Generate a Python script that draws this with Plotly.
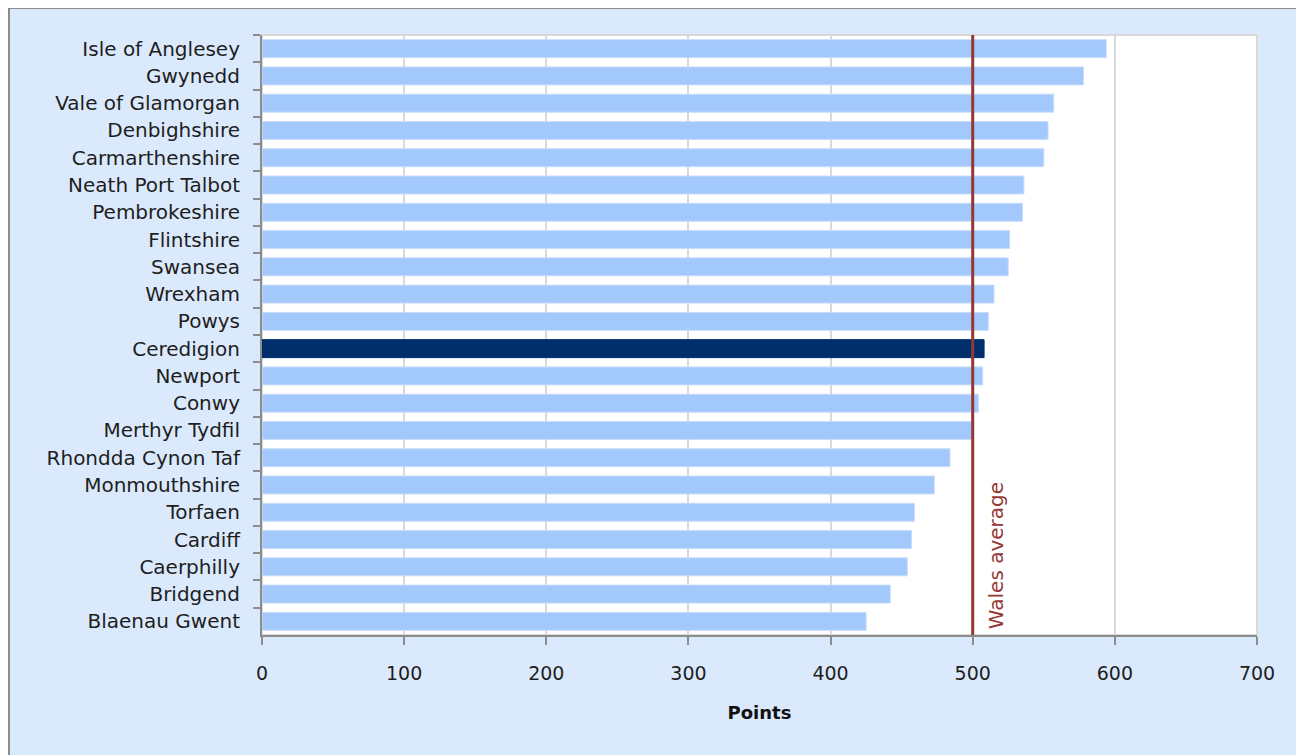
import plotly.graph_objects as go

areas = ["Isle of Anglesey", "Gwynedd", "Vale of Glamorgan", "Denbighshire",
         "Carmarthenshire", "Neath Port Talbot", "Pembrokeshire", "Flintshire",
         "Swansea", "Wrexham", "Powys", "Ceredigion", "Newport", "Conwy",
         "Merthyr Tydfil", "Rhondda Cynon Taf", "Monmouthshire", "Torfaen",
         "Cardiff", "Caerphilly", "Bridgend", "Blaenau Gwent"]
points = [594, 578, 557, 553, 550, 536, 535, 526, 525, 515, 511, 508, 507, 504,
          500, 484, 473, 459, 457, 454, 442, 425]
highlight = "Ceredigion"
wales_average = 500
x_ticks = [0, 100, 200, 300, 400, 500, 600, 700]

LIGHT = "#a3c9fc"
DARK = "#002f6c"
RED = "#953735"
FONT = "DejaVu Sans"
TXT = "#1e1e1e"

colors = [DARK if a == highlight else LIGHT for a in areas]
line_colors = [DARK if a == highlight else "#c9ddfb" for a in areas]

fig = go.Figure()
fig.add_trace(go.Bar(
    y=areas, x=points, orientation="h",
    marker=dict(color=colors, line=dict(color=line_colors, width=1)),
    hoverinfo="x+y",
))

# page has an 8px body margin; figure drawn from (8, 8)
W, H = 1296, 747
L, R, T, B = 254, 47, 27, 120
pw, ph = W - L - R, H - T - B

def px_x(p):
    return (p - L) / pw

def px_y(p):
    return 1 - (p - T) / ph

shapes = [
    # chart frame border (top and left)
    dict(type="line", xref="paper", yref="paper", x0=px_x(1), x1=px_x(W + 5), y0=px_y(0), y1=px_y(0),
         line=dict(color="#8c8c8c", width=2)),
    dict(type="line", xref="paper", yref="paper", x0=px_x(1), x1=px_x(1), y0=px_y(0), y1=px_y(H + 5),
         line=dict(color="#8c8c8c", width=2)),
    # light plot border
    dict(type="rect", xref="paper", yref="paper", x0=0, x1=1, y0=0, y1=1,
         line=dict(color="#d9d9d9", width=2), layer="below"),
    # Wales average line
    dict(type="line", xref="x", yref="paper", x0=wales_average, x1=wales_average, y0=0, y1=1,
         line=dict(color=RED, width=3)),
]

fig.update_layout(
    width=W, height=H,
    margin=dict(l=L, r=R, t=T, b=B, pad=0),
    paper_bgcolor="#dbe9fc",
    plot_bgcolor="white",
    showlegend=False,
    bargap=0.34,
    font=dict(family=FONT, size=20, color=TXT),
    shapes=shapes,
    annotations=[dict(
        x=wales_average, y=0, xref="x", yref="paper",
        text="Wales average", textangle=-90, showarrow=False,
        xanchor="left", yanchor="bottom", xshift=9, yshift=4,
        font=dict(family=FONT, size=20, color=RED),
    )],
)
fig.update_xaxes(
    range=[0, 700], tickvals=x_ticks, ticktext=[str(v) for v in x_ticks],
    showgrid=True, gridcolor="#d9d9d9", gridwidth=2,
    showline=True, linecolor="#8c8c8c", linewidth=2,
    ticks="outside", ticklen=8, tickcolor="#8c8c8c", tickwidth=2,
    ticklabelstandoff=12,
    tickfont=dict(size=19, color=TXT), zeroline=False,
    title=dict(text="<b>Points</b>", font=dict(size=18, color="#111111"), standoff=24),
)
fig.update_yaxes(
    autorange="reversed", showline=True, linecolor="#8c8c8c", linewidth=2,
    ticks="outside", ticklen=7, tickcolor="#8c8c8c", tickwidth=2, tickson="boundaries",
    ticklabelstandoff=16,
    tickfont=dict(size=20, color=TXT), showgrid=False,
)

fig.write_html("out.html")
